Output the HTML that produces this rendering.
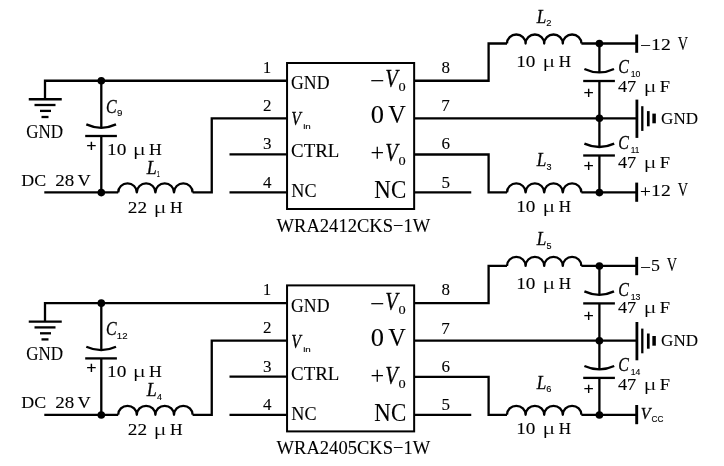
<!DOCTYPE html>
<html><head><meta charset="utf-8"><title>DC-DC converter circuit</title>
<style>
html,body{margin:0;padding:0;background:#fff;}
svg{display:block;filter:blur(0.3px);}
</style></head>
<body>
<svg width="724" height="466" viewBox="0 0 724 466">
<rect x="0" y="0" width="724" height="466" fill="#fff"/>
<g transform="translate(0,0)">
<g fill="none" stroke="#000" stroke-width="2.3" stroke-linecap="butt" stroke-linejoin="miter">
<path d="M45,99.25 V80.75 H286.75" />
<path d="M28.75,99.25 H61.75" />
<path d="M34.5,105 H55.5" />
<path d="M40,110.9 H51" />
<path d="M41.5,117 H48.5" />
<path d="M101.3,80.75 V127.8 M101.3,136.0 V192.4" />
<path d="M86.30,124.40 Q101.30,131.20 116.00,124.40" /><path d="M85.20,136.00 H116.90" />
<path d="M44.3,192.4 H118.2" />
<path d="M118.20,192.40 a9.30,9 0 0 1 18.60,0 a9.30,9 0 0 1 18.60,0 a9.30,9 0 0 1 18.60,0 a9.30,9 0 0 1 18.60,0" stroke-linejoin="round"/>
<path d="M192.60,192.4 H211.75 V118.3 H286.75" />
<path d="M229.5,154.3 H286.75 M229.5,192.4 H286.75" />
<rect x="287.05" y="63" width="127.1" height="146" stroke-width="2"/>
<path d="M414,80.75 H488.6 V43.5 H507" />
<path d="M507.00,43.50 a9.30,9 0 0 1 18.60,0 a9.30,9 0 0 1 18.60,0 a9.30,9 0 0 1 18.60,0 a9.30,9 0 0 1 18.60,0" stroke-linejoin="round"/>
<path d="M581.40,43.5 H636.7" />
<path d="M636.7,34.5 V52.8" stroke-width="2.9"/>
<path d="M414,118.3 H636.7" />
<path d="M414,154.5 H488.6 V192.4 H507" />
<path d="M507.00,192.40 a9.30,9 0 0 1 18.60,0 a9.30,9 0 0 1 18.60,0 a9.30,9 0 0 1 18.60,0 a9.30,9 0 0 1 18.60,0" stroke-linejoin="round"/>
<path d="M581.40,192.4 H636.7" />
<path d="M636.7,182.6 V201.8" stroke-width="2.9"/>
<path d="M414,192.4 H471.25" />
<path d="M636.9,99.6 V137.9" stroke-width="2.8"/>
<path d="M642.3,106.2 V130.9" />
<path d="M648.3,111.1 V126.3" stroke-width="2.7"/>
<path d="M654.1,113.6 V123.3" stroke-width="3.5"/>
<path d="M599.4,43.5 V72.45 M599.4,81.0 V147 M599.4,155.5 V192.4" />
<path d="M584.40,69.00 Q599.40,75.90 614.00,69.00" /><path d="M583.20,81.00 H614.90" />
<path d="M584.40,143.60 Q599.40,150.40 614.20,143.60" /><path d="M583.20,155.50 H614.90" />
</g>
<g fill="#000" stroke="none"><circle cx="101.3" cy="80.75" r="3.8" /><circle cx="101.3" cy="192.6" r="3.8" /><circle cx="599.4" cy="43.6" r="3.8" /><circle cx="599.4" cy="118.3" r="3.8" /><circle cx="599.4" cy="192.6" r="3.8" /></g>
<g fill="#000" stroke="#000" stroke-width="0.1">
<text x="86.36" y="150.82" font-size="16" font-family='"Liberation Sans", sans-serif' textLength="10.30" lengthAdjust="spacingAndGlyphs">+</text>
<text x="583.56" y="98.12" font-size="16" font-family='"Liberation Sans", sans-serif' textLength="10.30" lengthAdjust="spacingAndGlyphs">+</text>
<text x="583.56" y="171.42" font-size="16" font-family='"Liberation Sans", sans-serif' textLength="10.30" lengthAdjust="spacingAndGlyphs">+</text>
<text x="26.32" y="137.50" font-size="18" font-family='"Liberation Serif", serif' textLength="36.84" lengthAdjust="spacingAndGlyphs">GND</text>
<text x="106.03" y="112.70" font-size="18" font-family='"Liberation Serif", serif' font-style="italic" stroke="#111" stroke-width="0.3" textLength="10.61" lengthAdjust="spacingAndGlyphs">C</text>
<text x="117.04" y="116.20" font-size="9" font-family='"Liberation Sans", sans-serif' fill="#000" stroke="#000" stroke-width="0.12" textLength="5.41" lengthAdjust="spacingAndGlyphs">9</text>
<text x="107.11" y="154.90" font-size="17" font-family='"Liberation Serif", serif' textLength="19.31" lengthAdjust="spacingAndGlyphs">10</text><text stroke="#fff" stroke-width="0.2" x="132.71" y="154.90" font-size="17" font-family='"Liberation Serif", serif' textLength="13.31" lengthAdjust="spacingAndGlyphs">μ</text><text x="148.91" y="154.90" font-size="17" font-family='"Liberation Serif", serif' textLength="12.81" lengthAdjust="spacingAndGlyphs">H</text>
<text x="21.31" y="185.50" font-size="17.7" font-family='"Liberation Serif", serif' textLength="24.86" lengthAdjust="spacingAndGlyphs">DC</text>
<text x="55.19" y="185.50" font-size="17.7" font-family='"Liberation Serif", serif' textLength="19.02" lengthAdjust="spacingAndGlyphs">28</text>
<text x="77.62" y="185.50" font-size="17.7" font-family='"Liberation Serif", serif' textLength="13.21" lengthAdjust="spacingAndGlyphs">V</text>
<text x="146.72" y="174.00" font-size="19" font-family='"Liberation Serif", serif' font-style="italic" stroke="#111" stroke-width="0.3" textLength="10.01" lengthAdjust="spacingAndGlyphs">L</text>
<text x="156.78" y="177.40" font-size="9" font-family='"Liberation Sans", sans-serif' fill="#000" stroke="#000" stroke-width="0.12" textLength="3.09" lengthAdjust="spacingAndGlyphs">1</text>
<text x="127.78" y="212.90" font-size="17" font-family='"Liberation Serif", serif' textLength="19.28" lengthAdjust="spacingAndGlyphs">22</text><text stroke="#fff" stroke-width="0.2" x="153.45" y="212.90" font-size="17" font-family='"Liberation Serif", serif' textLength="13.05" lengthAdjust="spacingAndGlyphs">μ</text><text x="169.92" y="212.90" font-size="17" font-family='"Liberation Serif", serif' textLength="12.60" lengthAdjust="spacingAndGlyphs">H</text>
<text x="262.72" y="72.50" font-size="17" font-family='"Liberation Serif", serif'>1</text>
<text x="263.06" y="110.50" font-size="17" font-family='"Liberation Serif", serif'>2</text>
<text x="262.89" y="148.70" font-size="17" font-family='"Liberation Serif", serif'>3</text>
<text x="262.91" y="187.50" font-size="17" font-family='"Liberation Serif", serif'>4</text>
<text x="441.55" y="72.50" font-size="17" font-family='"Liberation Serif", serif'>8</text>
<text x="441.23" y="110.75" font-size="17" font-family='"Liberation Serif", serif'>7</text>
<text x="441.44" y="148.75" font-size="17" font-family='"Liberation Serif", serif'>6</text>
<text x="441.40" y="187.50" font-size="17" font-family='"Liberation Serif", serif'>5</text>
<text x="291.09" y="88.75" font-size="18" font-family='"Liberation Serif", serif' textLength="38.35" lengthAdjust="spacingAndGlyphs">GND</text>
<text x="291.17" y="124.90" font-size="18.5" font-family='"Liberation Serif", serif' font-style="italic" stroke="#111" stroke-width="0.3" textLength="9.61" lengthAdjust="spacingAndGlyphs">V</text>
<text x="303.19" y="128.70" font-size="8" font-family='"Liberation Sans", sans-serif' textLength="7.63" lengthAdjust="spacingAndGlyphs">in</text>
<text x="291.04" y="157.00" font-size="18" font-family='"Liberation Serif", serif' textLength="48.30" lengthAdjust="spacingAndGlyphs">CTRL</text>
<text x="291.30" y="197.00" font-size="18" font-family='"Liberation Serif", serif' textLength="25.18" lengthAdjust="spacingAndGlyphs">NC</text>
<text x="369.93" y="88.80" font-size="25" font-family='"Liberation Serif", serif' textLength="14.31" lengthAdjust="spacingAndGlyphs">−</text>
<text x="385.23" y="86.90" font-size="25" font-family='"Liberation Serif", serif' font-style="italic" stroke="#111" stroke-width="0.3" textLength="12.50" lengthAdjust="spacingAndGlyphs">V</text>
<text x="398.46" y="90.75" font-size="12" font-family='"Liberation Serif", serif' textLength="7.18" lengthAdjust="spacingAndGlyphs">0</text>
<text x="370.76" y="123.25" font-size="25" font-family='"Liberation Serif", serif' textLength="13.24" lengthAdjust="spacingAndGlyphs">0</text>
<text x="388.26" y="123.25" font-size="25" font-family='"Liberation Serif", serif' textLength="17.54" lengthAdjust="spacingAndGlyphs">V</text>
<text x="370.54" y="161.25" font-size="25" font-family='"Liberation Serif", serif' textLength="13.64" lengthAdjust="spacingAndGlyphs">+</text>
<text x="385.23" y="161.25" font-size="25" font-family='"Liberation Serif", serif' font-style="italic" stroke="#111" stroke-width="0.3" textLength="12.50" lengthAdjust="spacingAndGlyphs">V</text>
<text x="398.46" y="165.30" font-size="12" font-family='"Liberation Serif", serif' textLength="7.18" lengthAdjust="spacingAndGlyphs">0</text>
<text x="374.37" y="198.00" font-size="25" font-family='"Liberation Serif", serif' textLength="31.87" lengthAdjust="spacingAndGlyphs">NC</text>
<text x="276.60" y="231.70" font-size="19" font-family='"Liberation Serif", serif' textLength="153.62" lengthAdjust="spacingAndGlyphs">WRA2412CKS−1W</text>
<text x="536.72" y="23.00" font-size="19" font-family='"Liberation Serif", serif' font-style="italic" stroke="#111" stroke-width="0.3" textLength="9.58" lengthAdjust="spacingAndGlyphs">L</text>
<text x="546.33" y="26.40" font-size="9" font-family='"Liberation Sans", sans-serif' fill="#000" stroke="#000" stroke-width="0.12" textLength="5.26" lengthAdjust="spacingAndGlyphs">2</text>
<text x="516.22" y="66.60" font-size="17" font-family='"Liberation Serif", serif' textLength="19.20" lengthAdjust="spacingAndGlyphs">10</text><text stroke="#fff" stroke-width="0.2" x="542.33" y="66.60" font-size="17" font-family='"Liberation Serif", serif' textLength="13.18" lengthAdjust="spacingAndGlyphs">μ</text><text x="558.63" y="66.60" font-size="17" font-family='"Liberation Serif", serif' textLength="12.27" lengthAdjust="spacingAndGlyphs">H</text>
<text x="618.13" y="72.80" font-size="18" font-family='"Liberation Serif", serif' font-style="italic" stroke="#111" stroke-width="0.3" textLength="10.61" lengthAdjust="spacingAndGlyphs">C</text>
<text x="630.65" y="77.20" font-size="9" font-family='"Liberation Sans", sans-serif' fill="#000" stroke="#000" stroke-width="0.12" textLength="9.70" lengthAdjust="spacingAndGlyphs">10</text>
<text x="617.93" y="91.60" font-size="17" font-family='"Liberation Serif", serif' textLength="18.27" lengthAdjust="spacingAndGlyphs">47</text><text stroke="#fff" stroke-width="0.2" x="643.45" y="91.60" font-size="17" font-family='"Liberation Serif", serif' textLength="13.05" lengthAdjust="spacingAndGlyphs">μ</text><text x="659.89" y="91.60" font-size="17" font-family='"Liberation Serif", serif' textLength="10.28" lengthAdjust="spacingAndGlyphs">F</text>
<text x="639.93" y="51.20" font-size="17" font-family='"Liberation Serif", serif' textLength="10.92" lengthAdjust="spacingAndGlyphs">−</text><text x="651.08" y="49.80" font-size="17.6" font-family='"Liberation Serif", serif' textLength="19.71" lengthAdjust="spacingAndGlyphs">12</text><text x="677.76" y="49.80" font-size="18.5" font-family='"Liberation Serif", serif' textLength="10.32" lengthAdjust="spacingAndGlyphs">V</text>
<text x="661.12" y="123.90" font-size="17.7" font-family='"Liberation Serif", serif' textLength="36.95" lengthAdjust="spacingAndGlyphs">GND</text>
<text x="618.13" y="149.00" font-size="18" font-family='"Liberation Serif", serif' font-style="italic" stroke="#111" stroke-width="0.3" textLength="10.61" lengthAdjust="spacingAndGlyphs">C</text>
<text x="630.68" y="152.80" font-size="9" font-family='"Liberation Sans", sans-serif' fill="#000" stroke="#000" stroke-width="0.12" textLength="8.62" lengthAdjust="spacingAndGlyphs">11</text>
<text x="617.93" y="167.90" font-size="17" font-family='"Liberation Serif", serif' textLength="18.27" lengthAdjust="spacingAndGlyphs">47</text><text stroke="#fff" stroke-width="0.2" x="643.45" y="167.90" font-size="17" font-family='"Liberation Serif", serif' textLength="13.05" lengthAdjust="spacingAndGlyphs">μ</text><text x="659.89" y="167.90" font-size="17" font-family='"Liberation Serif", serif' textLength="10.28" lengthAdjust="spacingAndGlyphs">F</text>
<text x="639.93" y="196.60" font-size="17" font-family='"Liberation Serif", serif' textLength="10.92" lengthAdjust="spacingAndGlyphs">+</text><text x="651.08" y="195.70" font-size="17.6" font-family='"Liberation Serif", serif' textLength="19.71" lengthAdjust="spacingAndGlyphs">12</text><text x="677.76" y="195.70" font-size="18.5" font-family='"Liberation Serif", serif' textLength="10.32" lengthAdjust="spacingAndGlyphs">V</text>
<text x="536.72" y="166.30" font-size="19" font-family='"Liberation Serif", serif' font-style="italic" stroke="#111" stroke-width="0.3" textLength="9.58" lengthAdjust="spacingAndGlyphs">L</text>
<text x="546.46" y="169.90" font-size="9" font-family='"Liberation Sans", sans-serif' fill="#000" stroke="#000" stroke-width="0.12" textLength="5.03" lengthAdjust="spacingAndGlyphs">3</text>
<text x="516.22" y="211.50" font-size="17" font-family='"Liberation Serif", serif' textLength="19.20" lengthAdjust="spacingAndGlyphs">10</text><text stroke="#fff" stroke-width="0.2" x="542.33" y="211.50" font-size="17" font-family='"Liberation Serif", serif' textLength="13.18" lengthAdjust="spacingAndGlyphs">μ</text><text x="558.63" y="211.50" font-size="17" font-family='"Liberation Serif", serif' textLength="12.27" lengthAdjust="spacingAndGlyphs">H</text>
</g></g>
<g transform="translate(0,222.4)">
<g fill="none" stroke="#000" stroke-width="2.3" stroke-linecap="butt" stroke-linejoin="miter">
<path d="M45,99.25 V80.75 H286.75" />
<path d="M28.75,99.25 H61.75" />
<path d="M34.5,105 H55.5" />
<path d="M40,110.9 H51" />
<path d="M41.5,117 H48.5" />
<path d="M101.3,80.75 V127.8 M101.3,136.0 V192.4" />
<path d="M86.30,124.40 Q101.30,131.20 116.00,124.40" /><path d="M85.20,136.00 H116.90" />
<path d="M44.3,192.4 H118.2" />
<path d="M118.20,192.40 a9.30,9 0 0 1 18.60,0 a9.30,9 0 0 1 18.60,0 a9.30,9 0 0 1 18.60,0 a9.30,9 0 0 1 18.60,0" stroke-linejoin="round"/>
<path d="M192.60,192.4 H211.75 V118.3 H286.75" />
<path d="M229.5,154.3 H286.75 M229.5,192.4 H286.75" />
<rect x="287.05" y="63" width="127.1" height="146" stroke-width="2"/>
<path d="M414,80.75 H488.6 V43.5 H507" />
<path d="M507.00,43.50 a9.30,9 0 0 1 18.60,0 a9.30,9 0 0 1 18.60,0 a9.30,9 0 0 1 18.60,0 a9.30,9 0 0 1 18.60,0" stroke-linejoin="round"/>
<path d="M581.40,43.5 H636.7" />
<path d="M636.7,34.5 V52.8" stroke-width="2.9"/>
<path d="M414,118.3 H636.7" />
<path d="M414,154.5 H488.6 V192.4 H507" />
<path d="M507.00,192.40 a9.30,9 0 0 1 18.60,0 a9.30,9 0 0 1 18.60,0 a9.30,9 0 0 1 18.60,0 a9.30,9 0 0 1 18.60,0" stroke-linejoin="round"/>
<path d="M581.40,192.4 H636.7" />
<path d="M636.7,182.6 V201.8" stroke-width="2.9"/>
<path d="M414,192.4 H471.25" />
<path d="M636.9,99.6 V137.9" stroke-width="2.8"/>
<path d="M642.3,106.2 V130.9" />
<path d="M648.3,111.1 V126.3" stroke-width="2.7"/>
<path d="M654.1,113.6 V123.3" stroke-width="3.5"/>
<path d="M599.4,43.5 V72.45 M599.4,81.0 V147 M599.4,155.5 V192.4" />
<path d="M584.40,69.00 Q599.40,75.90 614.00,69.00" /><path d="M583.20,81.00 H614.90" />
<path d="M584.40,143.60 Q599.40,150.40 614.20,143.60" /><path d="M583.20,155.50 H614.90" />
</g>
<g fill="#000" stroke="none"><circle cx="101.3" cy="80.75" r="3.8" /><circle cx="101.3" cy="192.6" r="3.8" /><circle cx="599.4" cy="43.6" r="3.8" /><circle cx="599.4" cy="118.3" r="3.8" /><circle cx="599.4" cy="192.6" r="3.8" /></g>
<g fill="#000" stroke="#000" stroke-width="0.1">
<text x="86.36" y="150.82" font-size="16" font-family='"Liberation Sans", sans-serif' textLength="10.30" lengthAdjust="spacingAndGlyphs">+</text>
<text x="583.56" y="98.12" font-size="16" font-family='"Liberation Sans", sans-serif' textLength="10.30" lengthAdjust="spacingAndGlyphs">+</text>
<text x="583.56" y="171.42" font-size="16" font-family='"Liberation Sans", sans-serif' textLength="10.30" lengthAdjust="spacingAndGlyphs">+</text>
<text x="26.32" y="137.50" font-size="18" font-family='"Liberation Serif", serif' textLength="36.84" lengthAdjust="spacingAndGlyphs">GND</text>
<text x="106.03" y="112.70" font-size="18" font-family='"Liberation Serif", serif' font-style="italic" stroke="#111" stroke-width="0.3" textLength="10.61" lengthAdjust="spacingAndGlyphs">C</text>
<text x="116.78" y="116.20" font-size="9" font-family='"Liberation Sans", sans-serif' fill="#000" stroke="#000" stroke-width="0.12" textLength="10.73" lengthAdjust="spacingAndGlyphs">12</text>
<text x="107.11" y="154.90" font-size="17" font-family='"Liberation Serif", serif' textLength="19.31" lengthAdjust="spacingAndGlyphs">10</text><text stroke="#fff" stroke-width="0.2" x="132.71" y="154.90" font-size="17" font-family='"Liberation Serif", serif' textLength="13.31" lengthAdjust="spacingAndGlyphs">μ</text><text x="148.91" y="154.90" font-size="17" font-family='"Liberation Serif", serif' textLength="12.81" lengthAdjust="spacingAndGlyphs">H</text>
<text x="21.31" y="185.50" font-size="17.7" font-family='"Liberation Serif", serif' textLength="24.86" lengthAdjust="spacingAndGlyphs">DC</text>
<text x="55.19" y="185.50" font-size="17.7" font-family='"Liberation Serif", serif' textLength="19.02" lengthAdjust="spacingAndGlyphs">28</text>
<text x="77.62" y="185.50" font-size="17.7" font-family='"Liberation Serif", serif' textLength="13.21" lengthAdjust="spacingAndGlyphs">V</text>
<text x="146.72" y="174.00" font-size="19" font-family='"Liberation Serif", serif' font-style="italic" stroke="#111" stroke-width="0.3" textLength="10.01" lengthAdjust="spacingAndGlyphs">L</text>
<text x="157.00" y="177.40" font-size="9" font-family='"Liberation Sans", sans-serif' fill="#000" stroke="#000" stroke-width="0.12" textLength="4.96" lengthAdjust="spacingAndGlyphs">4</text>
<text x="127.78" y="212.90" font-size="17" font-family='"Liberation Serif", serif' textLength="19.28" lengthAdjust="spacingAndGlyphs">22</text><text stroke="#fff" stroke-width="0.2" x="153.45" y="212.90" font-size="17" font-family='"Liberation Serif", serif' textLength="13.05" lengthAdjust="spacingAndGlyphs">μ</text><text x="169.92" y="212.90" font-size="17" font-family='"Liberation Serif", serif' textLength="12.60" lengthAdjust="spacingAndGlyphs">H</text>
<text x="262.72" y="73.10" font-size="17" font-family='"Liberation Serif", serif'>1</text>
<text x="263.06" y="111.10" font-size="17" font-family='"Liberation Serif", serif'>2</text>
<text x="262.89" y="149.30" font-size="17" font-family='"Liberation Serif", serif'>3</text>
<text x="262.91" y="188.10" font-size="17" font-family='"Liberation Serif", serif'>4</text>
<text x="441.55" y="73.10" font-size="17" font-family='"Liberation Serif", serif'>8</text>
<text x="441.23" y="111.35" font-size="17" font-family='"Liberation Serif", serif'>7</text>
<text x="441.44" y="149.35" font-size="17" font-family='"Liberation Serif", serif'>6</text>
<text x="441.40" y="188.10" font-size="17" font-family='"Liberation Serif", serif'>5</text>
<text x="291.09" y="89.35" font-size="18" font-family='"Liberation Serif", serif' textLength="38.35" lengthAdjust="spacingAndGlyphs">GND</text>
<text x="291.17" y="125.50" font-size="18.5" font-family='"Liberation Serif", serif' font-style="italic" stroke="#111" stroke-width="0.3" textLength="9.61" lengthAdjust="spacingAndGlyphs">V</text>
<text x="303.19" y="129.30" font-size="8" font-family='"Liberation Sans", sans-serif' textLength="7.63" lengthAdjust="spacingAndGlyphs">in</text>
<text x="291.04" y="157.60" font-size="18" font-family='"Liberation Serif", serif' textLength="48.30" lengthAdjust="spacingAndGlyphs">CTRL</text>
<text x="291.30" y="197.60" font-size="18" font-family='"Liberation Serif", serif' textLength="25.18" lengthAdjust="spacingAndGlyphs">NC</text>
<text x="369.93" y="89.40" font-size="25" font-family='"Liberation Serif", serif' textLength="14.31" lengthAdjust="spacingAndGlyphs">−</text>
<text x="385.23" y="87.50" font-size="25" font-family='"Liberation Serif", serif' font-style="italic" stroke="#111" stroke-width="0.3" textLength="12.50" lengthAdjust="spacingAndGlyphs">V</text>
<text x="398.46" y="91.35" font-size="12" font-family='"Liberation Serif", serif' textLength="7.18" lengthAdjust="spacingAndGlyphs">0</text>
<text x="370.76" y="123.85" font-size="25" font-family='"Liberation Serif", serif' textLength="13.24" lengthAdjust="spacingAndGlyphs">0</text>
<text x="388.26" y="123.85" font-size="25" font-family='"Liberation Serif", serif' textLength="17.54" lengthAdjust="spacingAndGlyphs">V</text>
<text x="370.54" y="161.85" font-size="25" font-family='"Liberation Serif", serif' textLength="13.64" lengthAdjust="spacingAndGlyphs">+</text>
<text x="385.23" y="161.85" font-size="25" font-family='"Liberation Serif", serif' font-style="italic" stroke="#111" stroke-width="0.3" textLength="12.50" lengthAdjust="spacingAndGlyphs">V</text>
<text x="398.46" y="165.90" font-size="12" font-family='"Liberation Serif", serif' textLength="7.18" lengthAdjust="spacingAndGlyphs">0</text>
<text x="374.37" y="198.60" font-size="25" font-family='"Liberation Serif", serif' textLength="31.87" lengthAdjust="spacingAndGlyphs">NC</text>
<text x="276.60" y="231.70" font-size="19" font-family='"Liberation Serif", serif' textLength="153.62" lengthAdjust="spacingAndGlyphs">WRA2405CKS−1W</text>
<text x="536.72" y="23.00" font-size="19" font-family='"Liberation Serif", serif' font-style="italic" stroke="#111" stroke-width="0.3" textLength="9.58" lengthAdjust="spacingAndGlyphs">L</text>
<text x="546.44" y="26.40" font-size="9" font-family='"Liberation Sans", sans-serif' fill="#000" stroke="#000" stroke-width="0.12" textLength="5.03" lengthAdjust="spacingAndGlyphs">5</text>
<text x="516.22" y="66.60" font-size="17" font-family='"Liberation Serif", serif' textLength="19.20" lengthAdjust="spacingAndGlyphs">10</text><text stroke="#fff" stroke-width="0.2" x="542.33" y="66.60" font-size="17" font-family='"Liberation Serif", serif' textLength="13.18" lengthAdjust="spacingAndGlyphs">μ</text><text x="558.63" y="66.60" font-size="17" font-family='"Liberation Serif", serif' textLength="12.27" lengthAdjust="spacingAndGlyphs">H</text>
<text x="618.13" y="73.80" font-size="18" font-family='"Liberation Serif", serif' font-style="italic" stroke="#111" stroke-width="0.3" textLength="10.61" lengthAdjust="spacingAndGlyphs">C</text>
<text x="630.64" y="77.20" font-size="9" font-family='"Liberation Sans", sans-serif' fill="#000" stroke="#000" stroke-width="0.12" textLength="9.75" lengthAdjust="spacingAndGlyphs">13</text>
<text x="617.93" y="91.00" font-size="17" font-family='"Liberation Serif", serif' textLength="18.27" lengthAdjust="spacingAndGlyphs">47</text><text stroke="#fff" stroke-width="0.2" x="643.45" y="91.00" font-size="17" font-family='"Liberation Serif", serif' textLength="13.05" lengthAdjust="spacingAndGlyphs">μ</text><text x="659.89" y="91.00" font-size="17" font-family='"Liberation Serif", serif' textLength="10.28" lengthAdjust="spacingAndGlyphs">F</text>
<text x="639.93" y="50.20" font-size="17" font-family='"Liberation Serif", serif' textLength="10.92" lengthAdjust="spacingAndGlyphs">−</text><text x="651.07" y="48.90" font-size="17.6" font-family='"Liberation Serif", serif' textLength="8.94" lengthAdjust="spacingAndGlyphs">5</text><text x="666.86" y="48.90" font-size="18.5" font-family='"Liberation Serif", serif' textLength="10.32" lengthAdjust="spacingAndGlyphs">V</text>
<text x="661.12" y="123.90" font-size="17.7" font-family='"Liberation Serif", serif' textLength="36.95" lengthAdjust="spacingAndGlyphs">GND</text>
<text x="618.13" y="149.00" font-size="18" font-family='"Liberation Serif", serif' font-style="italic" stroke="#111" stroke-width="0.3" textLength="10.61" lengthAdjust="spacingAndGlyphs">C</text>
<text x="630.65" y="152.80" font-size="9" font-family='"Liberation Sans", sans-serif' fill="#000" stroke="#000" stroke-width="0.12" textLength="9.61" lengthAdjust="spacingAndGlyphs">14</text>
<text x="617.93" y="167.90" font-size="17" font-family='"Liberation Serif", serif' textLength="18.27" lengthAdjust="spacingAndGlyphs">47</text><text stroke="#fff" stroke-width="0.2" x="643.45" y="167.90" font-size="17" font-family='"Liberation Serif", serif' textLength="13.05" lengthAdjust="spacingAndGlyphs">μ</text><text x="659.89" y="167.90" font-size="17" font-family='"Liberation Serif", serif' textLength="10.28" lengthAdjust="spacingAndGlyphs">F</text>
<text x="640.87" y="196.15" font-size="17.5" font-family='"Liberation Serif", serif' font-style="italic" stroke="#111" stroke-width="0.3" textLength="9.70" lengthAdjust="spacingAndGlyphs">V</text><text x="651.49" y="199.50" font-size="8.3" font-family='"Liberation Sans", sans-serif' fill="#000" stroke="#000" stroke-width="0.12" textLength="11.92" lengthAdjust="spacingAndGlyphs">CC</text>
<text x="536.72" y="166.30" font-size="19" font-family='"Liberation Serif", serif' font-style="italic" stroke="#111" stroke-width="0.3" textLength="9.58" lengthAdjust="spacingAndGlyphs">L</text>
<text x="546.34" y="169.90" font-size="9" font-family='"Liberation Sans", sans-serif' fill="#000" stroke="#000" stroke-width="0.12" textLength="5.17" lengthAdjust="spacingAndGlyphs">6</text>
<text x="516.22" y="211.50" font-size="17" font-family='"Liberation Serif", serif' textLength="19.20" lengthAdjust="spacingAndGlyphs">10</text><text stroke="#fff" stroke-width="0.2" x="542.33" y="211.50" font-size="17" font-family='"Liberation Serif", serif' textLength="13.18" lengthAdjust="spacingAndGlyphs">μ</text><text x="558.63" y="211.50" font-size="17" font-family='"Liberation Serif", serif' textLength="12.27" lengthAdjust="spacingAndGlyphs">H</text>
</g></g>
</svg>
</body></html>
